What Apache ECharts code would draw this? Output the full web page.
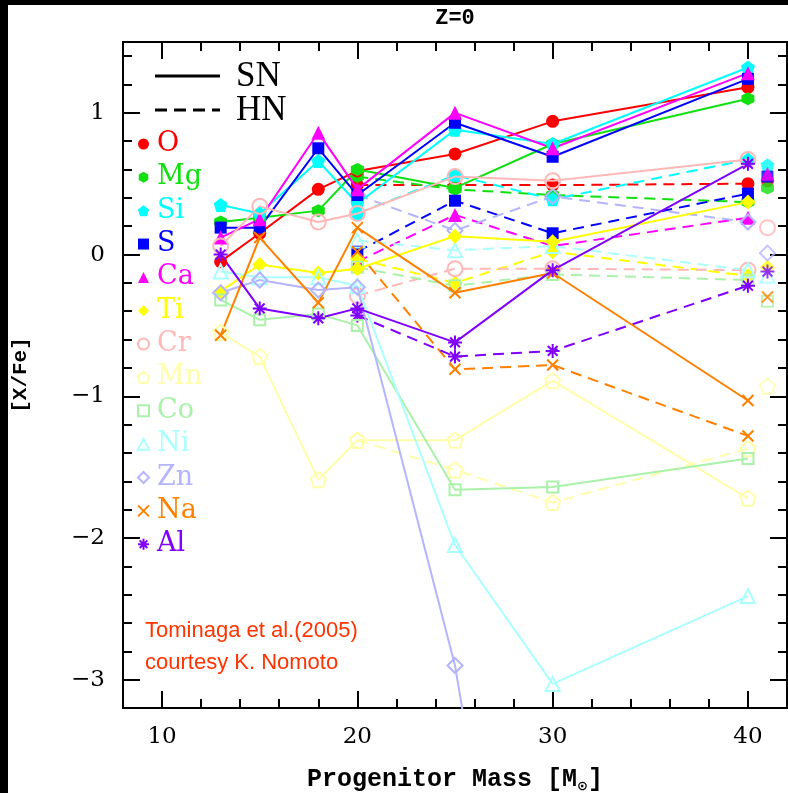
<!DOCTYPE html>
<html><head><meta charset="utf-8">
<script src="https://cdn.jsdelivr.net/npm/echarts@6/dist/echarts.min.js"></script>
<style>html,body{margin:0;padding:0;background:#fff}#c{width:788px;height:793px}</style>
</head><body><div id="c"></div>
<script>
// ---- data ----
const snMass = [13, 15, 18, 20, 25, 30, 40];
const hnMass = [20, 25, 30, 40];
const extraMass = 41;
const elements = ['O','Mg','Si','S','Ca','Ti','Cr','Mn','Co','Ni','Zn','Na','Al'];

const snO  = [-0.05, 0.15, 0.46, 0.59, 0.71, 0.94, 1.18];
const snMg = [0.23, 0.26, 0.31, 0.60, 0.47, 0.78, 1.10];
const snSi = [0.35, 0.29, 0.66, 0.36, 0.88, 0.78, 1.32];
const snS  = [0.19, 0.19, 0.75, 0.42, 0.93, 0.69, 1.24];
const snCa = [0.12, 0.25, 0.86, 0.46, 1.00, 0.75, 1.28];
const snTi = [-0.26, -0.07, -0.13, -0.10, 0.13, 0.09, 0.37];
const snCr = [0.06, 0.34, 0.23, 0.29, 0.55, 0.52, 0.67];
const snMn = [-0.55, -0.72, -1.59, -1.31, -1.31, -0.89, -1.72];
const snCo = [-0.32, -0.46, -0.42, -0.50, -1.66, -1.64, -1.44];
const snNi = [-0.12, -0.16, -0.16, -0.22, -2.05, -3.03, -2.41];
const snZn = [-0.27, -0.18, -0.25, -0.23, -2.90, -7.0, null];
const snNa = [-0.57, 0.12, -0.34, 0.19, -0.27, -0.13, -1.03];
const snAl = [0.00, -0.38, -0.45, -0.38, -0.62, -0.11, 0.64];

const hnO  = [0.49, 0.49, 0.49, 0.50];
const hnMg = [0.55, 0.46, 0.42, 0.37];
const hnSi = [0.29, 0.56, 0.39, 0.67];
const hnS  = [0.02, 0.38, 0.15, 0.43];
const hnCa = [-0.05, 0.28, 0.06, 0.26];
const hnTi = [-0.03, -0.20, 0.02, -0.15];
const hnCr = [-0.29, -0.10, -0.10, -0.11];
const hnMn = [-1.31, -1.52, -1.75, -1.37];
const hnCo = [-0.09, -0.22, -0.14, -0.18];
const hnNi = [0.10, 0.03, 0.06, -0.11];
const hnZn = [0.42, 0.17, 0.41, 0.23];
const hnNa = [0.02, -0.81, -0.78, -1.28];
const hnAl = [-0.43, -0.72, -0.68, -0.22];

const extra41 = [0.52, 0.47, 0.63, 0.55, 0.57, -0.09, 0.19, -0.93, -0.33, -0.15, 0.01, -0.30, -0.12];

const xMajor = [10, 20, 30, 40];
const yMajor = [-3, -2, -1, 0, 1];

const snAll = [snO, snMg, snSi, snS, snCa, snTi, snCr, snMn, snCo, snNi, snZn, snNa, snAl];
const hnAll = [hnO, hnMg, hnSi, hnS, hnCa, hnTi, hnCr, hnMn, hnCo, hnNi, hnZn, hnNa, hnAl];

// ---- styles ----
const colors = ['#ff0000','#10e010','#00ffff','#0000ff','#ff00ff','#ffff00','#ffb8b8','#ffffaa','#aaf2aa','#aaffff','#b4b4ff','#ff8000','#8000ff'];
const SYM = {
  hex: 'path://M5,0 L9.33,2.5 L9.33,7.5 L5,10 L0.67,7.5 L0.67,2.5 Z',
  pent: 'path://M5,0 L10,3.8 L8.1,10 L1.9,10 L0,3.8 Z',
  cross: 'path://M0,0 L10,10 M10,0 L0,10',
  ast: 'path://M5,0 L5,10 M0,5 L10,5 M1.5,1.5 L8.5,8.5 M8.5,1.5 L1.5,8.5'
};
const marks = [
  {s:'circle', fill:true, size:13},
  {s:SYM.hex, fill:true, size:13},
  {s:SYM.pent, fill:true, size:14},
  {s:'rect', fill:true, size:12},
  {s:'triangle', fill:true, size:14},
  {s:'diamond', fill:true, size:15},
  {s:'circle', fill:false, size:15},
  {s:SYM.pent, fill:false, size:15},
  {s:'rect', fill:false, size:11},
  {s:'triangle', fill:false, size:14},
  {s:'diamond', fill:false, size:15},
  {s:SYM.cross, fill:false, size:11},
  {s:SYM.ast, fill:false, size:14}
];
function itemStyleFor(i) {
  const m = marks[i], c = colors[i];
  return m.fill ? {color: c, borderWidth: 0} : {color: 'rgba(0,0,0,0)', borderColor: c, borderWidth: 2};
}

const series = [];
elements.forEach((el, i) => {
  const c = colors[i], m = marks[i];
  series.push({
    name: el + ' HN', type: 'line', data: hnMass.map((x, j) => [x, hnAll[i][j]]),
    symbol: m.s, symbolSize: m.size, itemStyle: itemStyleFor(i),
    lineStyle: {color: c, width: 2, type: [11, 7]}, z: 2
  });
  series.push({
    name: el, type: 'line', data: snMass.map((x, j) => [x, snAll[i][j]]),
    symbol: m.s, symbolSize: m.size, itemStyle: itemStyleFor(i),
    lineStyle: {color: c, width: 2}, z: 3
  });
  series.push({
    name: el + ' 41', type: 'scatter', data: [[extraMass, extra41[i]]],
    symbol: m.s, symbolSize: m.size, itemStyle: itemStyleFor(i), z: 3
  });
});

const tickStyle = {color: '#000', width: 2};
function xAx(pos, major) {
  const a = {
    type: 'value', min: 8, max: 42, position: pos,
    axisLine: {show: false, onZero: false}, splitLine: {show: false},
    axisTick: {show: true, inside: true, length: major ? 17 : 9, lineStyle: tickStyle},
    axisLabel: {show: false}
  };
  if (major) a.axisTick.customValues = xMajor; else a.interval = 2;
  return a;
}
function yAx(pos, major) {
  const a = {
    type: 'value', min: -3.2, max: 1.5, position: pos,
    axisLine: {show: false, onZero: false}, splitLine: {show: false},
    axisTick: {show: true, inside: true, length: major ? 17 : 9, lineStyle: tickStyle},
    axisLabel: {show: false}
  };
  if (major) a.axisTick.customValues = yMajor; else a.interval = 0.2;
  return a;
}
const xAxes = [xAx('bottom', true), xAx('bottom', false), xAx('top', true), xAx('top', false)];
xAxes[0].axisLabel = {show: true, customValues: xMajor, margin: 18, color: '#000', fontFamily: 'DejaVu Serif', fontSize: 23};
xAxes[0].name = 'Progenitor Mass [M{s|⊙}]';
xAxes[0].nameLocation = 'middle';
xAxes[0].nameGap = 58;
xAxes[0].nameTextStyle = {color: '#000', fontFamily: 'Liberation Mono', fontSize: 25, fontWeight: 'bold',
  rich: {s: {fontFamily: 'DejaVu Sans', fontSize: 13, color: '#000', padding: [14, 0, 0, 0]}}};
const yAxes = [yAx('left', true), yAx('left', false), yAx('right', true), yAx('right', false)];
yAxes[0].axisLabel = {show: true, customValues: yMajor, margin: 18, color: '#000', fontFamily: 'DejaVu Serif', fontSize: 23,
  formatter: v => (v < 0 ? '\u2212' + Math.abs(v) : String(v))};
yAxes[0].name = '[X/Fe]';
yAxes[0].nameLocation = 'middle';
yAxes[0].nameGap = 92;
yAxes[0].nameTextStyle = {color: '#000', fontFamily: 'Liberation Mono', fontSize: 21, fontWeight: 'bold'};

const legendData = elements.map((el, i) => ({
  name: el, icon: marks[i].s,
  itemStyle: marks[i].fill ? {color: colors[i], borderWidth: 0} : {color: 'rgba(0,0,0,0)', borderColor: colors[i], borderWidth: 2},
  textStyle: {color: colors[i]}
}));

const chart = echarts.init(document.getElementById('c'), null, {renderer: 'canvas'});
chart.setOption({
  animation: false,
  backgroundColor: '#fff',
  grid: {left: 123, top: 42, right: 1, bottom: 85, show: true, borderColor: '#000', borderWidth: 2, backgroundColor: '#fff', outerBoundsMode: 'none'},
  xAxis: xAxes,
  yAxis: yAxes,
  legend: {
    orient: 'vertical', left: 137, top: 129, itemWidth: 11, itemHeight: 11, itemGap: 3.35,
    selectedMode: false, padding: 0,
    textStyle: {fontFamily: 'DejaVu Serif', fontSize: 27, lineHeight: 30, padding: [0, 0, 0, 3]},
    data: legendData
  },
  graphic: [
    {type: 'rect', shape: {x: 0, y: 0, width: 788, height: 5}, style: {fill: '#000'}, z: 100},
    {type: 'rect', shape: {x: 0, y: 0, width: 8, height: 793}, style: {fill: '#000'}, z: 100},
    {type: 'text', x: 455, y: 18, style: {text: 'Z=0', fill: '#000', fontFamily: 'Liberation Mono', fontSize: 22, fontWeight: 'bold', align: 'center', verticalAlign: 'middle'}, z: 100},
    {type: 'line', shape: {x1: 155, y1: 76, x2: 220, y2: 76}, style: {stroke: '#000', lineWidth: 3}, z: 100},
    {type: 'line', shape: {x1: 155, y1: 110, x2: 220, y2: 110}, style: {stroke: '#000', lineWidth: 3, lineDash: [12, 7]}, z: 100},
    {type: 'text', x: 236, y: 77, style: {text: 'SN', fill: '#000', fontFamily: 'Liberation Serif', fontSize: 35, verticalAlign: 'middle'}, z: 100},
    {type: 'text', x: 236, y: 111, style: {text: 'HN', fill: '#000', fontFamily: 'Liberation Serif', fontSize: 35, verticalAlign: 'middle'}, z: 100},
    {type: 'text', x: 145, y: 631, style: {text: 'Tominaga et al.(2005)', fill: '#ff3300', fontFamily: 'Liberation Sans', fontSize: 22, verticalAlign: 'middle'}, z: 100},
    {type: 'text', x: 145, y: 663, style: {text: 'courtesy K. Nomoto', fill: '#ff3300', fontFamily: 'Liberation Sans', fontSize: 22, verticalAlign: 'middle'}, z: 100}
  ],
  series: series
});
</script></body></html>
